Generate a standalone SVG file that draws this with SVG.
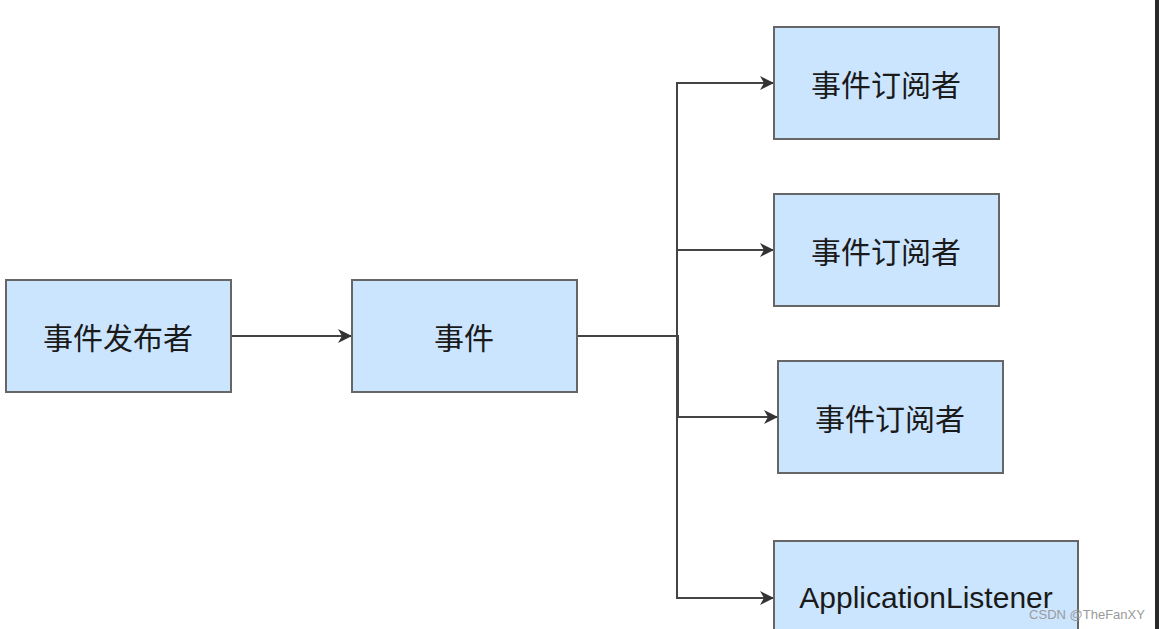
<svg xmlns="http://www.w3.org/2000/svg" width="1159" height="629" viewBox="0 0 1159 629">
<style>
.box{fill:#cce5ff;stroke:#666666;stroke-width:2}
.lbl{font-family:"Noto Sans CJK SC","Liberation Sans",sans-serif;font-size:30px;fill:#1a1a1a;text-anchor:middle;dominant-baseline:central}
.en{font-family:"Liberation Sans","Noto Sans CJK SC",sans-serif;font-size:30px;fill:#1a1a1a;text-anchor:middle;dominant-baseline:central}
.edge{fill:none;stroke:#444444;stroke-width:2}
</style>
<defs>
<marker id="arr" viewBox="0 0 14 14" refX="13" refY="7" markerWidth="14" markerHeight="14" markerUnits="userSpaceOnUse" orient="auto">
<path d="M0,0 L14,7 L0,14 L4,7 Z" fill="#333333"/>
</marker>
</defs>
<rect width="1159" height="629" fill="#ffffff"/>
<g id="connectors">
<path class="edge" d="M231,336 H351" marker-end="url(#arr)"/>
<path class="edge" d="M577,336 H677 V83 H773" marker-end="url(#arr)"/>
<path class="edge" d="M577,336 H677 V250 H773" marker-end="url(#arr)"/>
<path class="edge" d="M577,336 H678 V417 H777" marker-end="url(#arr)"/>
<path class="edge" d="M577,336 H677 V598 H773" marker-end="url(#arr)"/>
</g>
<g id="publisher"><rect class="box" x="6" y="280" width="225" height="112"/><text class="lbl" x="118" y="336">事件发布者</text></g>
<g id="event"><rect class="box" x="352" y="280" width="225" height="112"/><text class="lbl" x="464" y="336">事件</text></g>
<g id="sub1"><rect class="box" x="774" y="27" width="225" height="112"/><text class="lbl" x="886" y="83">事件订阅者</text></g>
<g id="sub2"><rect class="box" x="774" y="194" width="225" height="112"/><text class="lbl" x="886" y="250">事件订阅者</text></g>
<g id="sub3"><rect class="box" x="778" y="361" width="225" height="112"/><text class="lbl" x="890" y="417">事件订阅者</text></g>
<g id="listener"><rect class="box" x="774" y="541" width="304" height="112"/><text class="en" x="926" y="597">ApplicationListener</text></g>
<rect x="1155" y="0" width="4" height="629" fill="#2a2a2a"/>
<text x="1087" y="614" font-family="Liberation Sans,sans-serif" font-size="13" fill="#9a9a9a" text-anchor="middle" dominant-baseline="central">CSDN @TheFanXY</text>
</svg>
